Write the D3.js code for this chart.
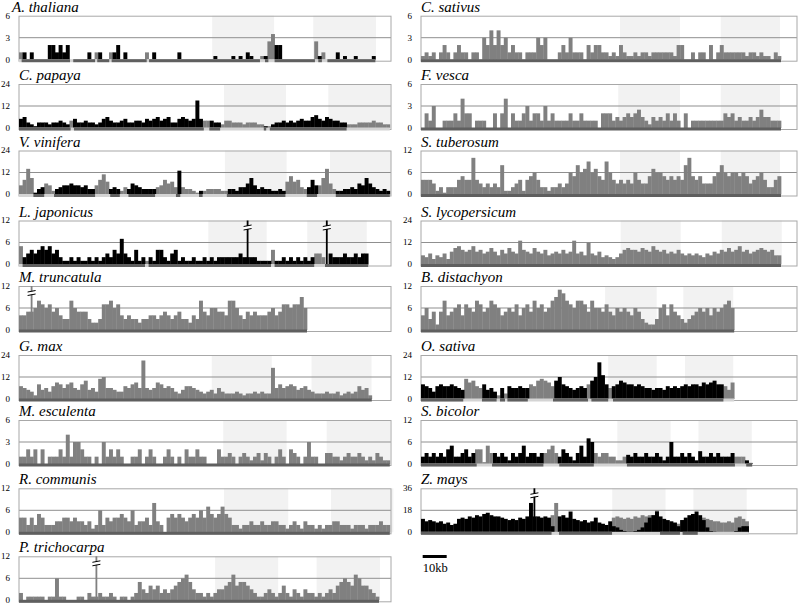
<!DOCTYPE html>
<html>
<head>
<meta charset="utf-8">
<script src="https://cdn.jsdelivr.net/npm/d3@7"></script>
<style>
  body { margin: 0; background: #fff; }
  svg { display: block; }
  svg text { font-family: "Liberation Serif", "Times New Roman", Times, serif; }
</style>
</head>
<body>
<script>
// every series is binned at 1.5 kb
const BIN = 1.5;
const KB_PX = 2.4;   // 10kb = 24px on the page

// ---- data: values per bin, shaded blocks (kb), black stretches (kb) ----
const athaliana = [1,1,0,1,0,0,0,0,2,2, 1,2,1,2,0,0,0,0,0,1, 0,1,1,0,0,1,1,2,0,1, 0,0,0,0,0,1,0,1,0,0,
  0,0,0,0,1,0,0,0,0,0, 0,0,0,0,0.5,0,0,0,0,0.5, 0,0.5,0,1,0.5,0,0,0.5,0.5,2.5, 3.5,2,2,0,0,0,0,0,0,0,
  0,0,2.5,0.5,1,0,0,0,1,0, 0.5,0,0,0.5,0,0,0,0,0.5];
const athShade = [[80.5,106.3],[122.6,148.75]];
const athBlack = [[1.1,21.25],[22.6,31.7],[32.6,37.6],[38.6,53.2],[54.2,100.4],[102.5,103.9],[106.5,123.3],[124.7,126.2],[128.5,148.5]];

const cpapaya = [5,6,3,2, 1,3,3,3,2, 3,3,4,3,2,4, 5,3,3,4,3,3, 2,3,5,6,4,3, 3,4,5,3,3,4, 4,3,5,4,5,6,
  4,5,6,3,3,5, 6,5,4,5, 15,5, 4,4,4, 3,3,2, 4,4,3,3,3,2,3,3,3,2,2,1, 1,2,
  3,3,4,3,4,3,4,5,4,4,6,7,5,4,6,5,4,4,3,3,2, 2,2,3,3,3,3,4,3,3,2,2];
const cpShade = [[85.4,111.25],[128.9,154.6]];
const cpBlack = [[0,21.5],[22.9,77],[79.3,83.8],[102,103],[104.5,136.5]];

const vvinifera = [5,8,14,9, 1, 3,4,6,5,2, 3,4,5,5,6,5,5,4,5,3,3, 5,8,11,7,3, 4,3, 2,4,3, 6,5,4,3,3,3,3,
  4,5,8,6,7, 4, 13, 4,3,3,2,1, 2, 2,3,3,3,3,2,2, 3,3,2,4,4,6,9,5,3,4,3,3,2,2,3,2,
  7,10,7,8,4,3, 4,8,5, 5,9,14,6,3, 2,2,3,3,4,3,6,5,9,6,4,3,2,3,2];
const vvShade = [[85.8,111.5],[129.6,155]];
const vvBlack = [[6,10.5],[14.6,31.7],[38,42],[45.6,56.7],[65.4,67.2],[75,76.5],[86.6,111],[119.9,124.2],[132,155]];

const ljaponicus = [5,2, 3,4,3,4,5,4,5,3,4,2, 1,1,2,1,2,1,1,2,1,2,1, 2,3,2,4,3, 7, 3,2,1,4,1,2, 1,
  2,1,4,4,2, 1,3,4,1,2,1, 1,2,1,1,2,1,2,1,2,2,2, 2,2,2,3,2, 30, 2,2,1, 1,1,1, 4,
  1,1,2,1,2,1,2,1,2,1, 2,3,3,2, 30, 3,2,2,2,3,2,2,3,2,3,3];
const ljShade = [[78.9,103.2],[120.1,144.9]];
const ljBlack = [[1.5,52.5],[54,105],[106.5,123],[127.5,146]];

const mtruncatula = [4,4,5, 30, 6,8,7,6,7,5, 6,4,3,3, 8,6,5,5,5, 3,2,2,3, 7,7,8,6,7, 4,3,4,3,3,
  2,3,3,4,4,3,4, 5,4,3,4,5,3,3, 2,4,3, 8,5,4,6, 6,5,5,4,8,8,6, 4,3,5,4,5, 4,4,4,5,6,4,5, 7,7,6,7,7,9,6];
const mtShade = [];

const gmax = [7,6,5,4,2,8, 5,6,4,7,9,8, 6,8,9,6,5,8, 10,5,6,4,11, 12,6,6,5,4, 4,7,6,8,9,6, 21,
  6,5,6,9,8,6, 7,6,4,3,5,7, 7,6,5,4,3,4, 5,3,6,4,3,3, 3,4,3,2,3,3,4, 3,4,3,3,17,
  6,8,6,7,8,7,5, 6,7,5,4,3,3,3, 4,3,3,4,2,3,4, 3,4,7,5,6,2];
const gmShade = [[80.3,105.3],[121.9,146.9]];

const mesculenta = [1,1,2,1,2,0, 2,0,1,1,1,2,1, 4,1,3,3,2, 1,1,0,1,0, 3, 1,2,1,2,1, 0,0,1,1,
  2,0,1,2,1,0, 0,1,2,1,0,1, 0,2,1,1,2, 1,1,0,0,0,2, 1,1,1.5,1,0,1, 1.5,1,0.5,1,1.5,0.5,
  1.5,1,0,1,2, 1,0,2,1.5,1,0,1, 3, 1,1,0,0,1.5,1.5, 1,1,0.5,1,1.5,1,1, 1.5,1,0.5,1,0.5,1.5,1,0.5,0.5];
const meShade = [[85.1,111.5],[128.2,154.6]];

const rcommunis = [4,4,2,4,2,5, 4,2,2,2,3,3, 4,4,3,4,3,3, 2,3,1,2,6,2, 4,3,4,4,5,4, 3,6,2,3,
  3,4,2,8,3,2, 0, 4,5,4,5,4,3, 4,5,4,6,4,7, 5,4,5,7,5,4, 2,2,1,2,2,3,2,2, 3,2,2,3,3,2,2,1,
  2,3,2,1,3,2,2,1, 2,1,2,2,3,3,2,2, 2,1,2,2,2,1,2, 2,2,3,2,2];
const rcShade = [[85.4,112.2],[130,156]];

const ptrichocarpa = [2,0,1,1,1,1, 1,0,1,1,6, 1,1,0,0,0,1, 1,0,2,1, 30, 2,1,1,2,1,0, 1,1,0,1,2,
  5,3,2,4,3,4, 2,3,2,3,4,5, 6,7,5,3,2,2, 1,2,1,2,3, 3,4,5,7,4,5, 5,4,3,2,1, 1,2,3,2,1,2,
  4,2,1,3,2,1, 3,2,2,1,2,1, 2,3,2,4,5,6, 5,4,7,6,4, 4,3,2,1];
const ptShade = [[81.7,108],[124,150.4]];

const csativus = [0.5,1,0.5,1,0,1,2,1,0,1, 2,1,1,0,1,1,0,3,2,4, 2,4,2,3,1,2,1,1,0,1, 1,1,3,2,3,0,0,0,1,2,
  1,3,1,1,1,0,2,1,2,2, 1,1,0.5,1,0.5,2,1,0.5,0.5,1, 0.5,1,1,0.5,1,1,1,1,1,1, 0.5,2,2,0,0,1,0,1,1,0,
  2,0,1,2,1,1,1,1,1,1, 0.5,1,1,0.5,1,0.5,0.5,0,1,0.5];
const csShade = [[82.9,107.9],[124.9,149.6]];

const fvesca = [0,2,1,3,0,0,1,1,1,2, 1,4,2,2,0,1,1,1,0,0, 2,0,2,4,0,2,1,1,2,3, 1,2,2,1,3,1,2,1,1,1,
  1,2,1,1,2,1,1,1,1,0, 2,2,2,1,1.5,1,1.5,2,1.5,2, 2.5,1.5,1,0.5,1.5,1,1.5,1,2,1, 2,1,0,2,0,1,1,1,1,1,
  1,1,1,1,2,1.5,2,1,1.5,1, 1,1.5,1,1.5,2.5,1.5,1.5,1,1,1];
const fvShade = [[82.2,107.9],[124.9,149.6]];

const stuberosum = [4,4,4,3,1,2,0.5,2,2,2, 4,5,4,4,10,4,3,2,3,2, 3,2,8,1,1,2,3,4,1,4, 5,6,4,2,2,1,2,2,3,2,
  3,6,5,8,6,7,9,6,7,5, 4,9,6,4,3,4,3,4,3,6, 4,3,3,5,7,6,6,5,4,5, 4,5,4,8,10,5,4,5,3,3,
  3,5,6,8,6,5,6,6,5,6, 5,3,4,5,6,4,2,2,4,5];
const stShade = [[82.9,107.9],[124.9,149.6]];

const slycopersicum = [5,4,6,3,5,4,6,3, 7,9,10,8,7, 8,10,7,8,6,7,9,7,5,8,6,9, 7,6,13, 8,7,6,9,7,6,8,5,6,7,6,8,6,
  7,13, 6,7,5,12, 6,5,7,4,5,4,3,4, 6,8,9,8,8,7,9, 8,7,10,8,7,8,6, 7,6,8,6,5,6,5,6,
  5,4,6,5,7,6,8,7, 9,7,8,10,7,8,6,7, 8,9,8,7,8,5,5];
const slShade = [[83.2,108.2],[125.3,150.3]];

const bdistachyon = [4,6,3,5,1.5, 5,8,4,5,6,7, 4,7,6,5,8,7, 5,6,8,7,6,4, 5,6,5,7,4,6, 7,5,8,6,7,5, 6,8,9,
  11,10,8, 7,6,8,8,7,5, 8,6,6,5,7, 5,4,6,5,6,5, 4,6,5,3, 2,1.5,1.5,3, 6,7,4,7,5, 4,3,2,3,4,
  5,6,5,6,4,6,5,6,7,8,6];
const bdShade = [[76.7,98.2],[109.3,130.1]];

const osativa = [8,7,6,4,7,8, 7,7,8,7,6,5, 11,9,10,7,6, 8,5,6,4,2, 6,3, 7,6,6,7,6,6,8, 7,10,11,10,9,7,
  10,12,8,7, 6,5,6,7,6, 8,10,12, 20,13, 8,6,7, 8,10,9,8,8,7, 8,7,6,6,5,6, 6,5,7,6,7,6,
  7,8,7,8,8,7,9, 8,9,10,8,8,7,5,9];
const osShade = [[78,98.2],[110,130.1]];
const osBlack = [[0,17.6],[25.4,31.5],[32.9,35],[36,44.5],[55,69.6],[71,78],[80,126]];

const sbicolor = [2,3,2,3,2,3, 2,4,5,2,2, 3,4,2,3,4, 4,0.5,5, 3,3,2,3,2,1, 3,2,3,5,2,3, 3,2,3, 3,4,5,3,
  2,4,3,2, 1,3,5,2, 7,6, 3,2,3,3,2,2, 1,1,2,2.5, 2,3,2,2,3,2,2, 3,2,1,2,6,2, 2,3,2,3,2,1,3.5,
  2,2,3,2,3,2,2, 2,3,2,2, 2,1,0.3];
const sbShade = [[81.8,104],[115.6,137.8]];
const sbBlack = [[0,23.2],[29.6,51],[57.6,72],[85.8,130.8],[135.5,138]];

// Z. mays: two overlaid series, black drawn in front of gray
const zmaysBlack = [11,9,10,9,8,9,7,8,6,7, 11,12,11,13,12,14,13,15,16,14, 13,13,12,11,10,11,10,12,11,13,
  24,50,13,12,13,12, 5, 0, 13,14,12,17,11,10,9,10,8,9,12,8,7,6,9, 5,4,2,1,0.5,0.5,1,2,4,8,
  12,14,17,13,11,10,9,8, 5,10,12,14,15,17,14, 10,4,1,0.5,0,0,0,0,0,1,4,5,5];
const zmaysGray = [0,0,0,0,0,0,0,0,0,0, 0,0,0,0,0,0,0,0,0,0, 0,0,0,0,0,0,0,0,0,0, 0,0,0,0,0,0, 14, 24,
  0,0,0,0,0,0,0,0,0,0,0,0,0,0,0, 12,13,12,11,12,11,13,12,14,13, 14,14,18,0,0,0,0,0, 7,10,0,0,0,0,0,
  12,11,10,9,9,8,8,9,8,12,13,11,9];
const zmShade = [[79.7,101.9],[113.5,135.7]];
const zmBase = [[0,54.4],[57.5,79.6],[99.6,107.9],[109,115.3]];

const leftNames = ["A. thaliana", "C. papaya", "V. vinifera", "L. japonicus", "M. truncatula",
                   "G. max", "M. esculenta", "R. communis", "P. trichocarpa"];
const rightNames = ["C. sativus", "F. vesca", "S. tuberosum", "S. lycopersicum", "B. distachyon",
                    "O. sativa", "S. bicolor", "Z. mays"];
const leftMax = [6, 24, 24, 12, 12, 24, 6, 12, 12];
const rightMax = [6, 6, 12, 24, 12, 24, 12, 36];

// split a single series into black / gray by black stretches
function split(vals, segs) {
  const inSeg = i => segs.some(s => (i + 0.5) * BIN >= s[0] && (i + 0.5) * BIN < s[1]);
  return {
    black: vals.map((v, i) => inSeg(i) ? v : 0),
    gray: vals.map((v, i) => inSeg(i) ? 0 : v),
    base: segs,
    mixed: true
  };
}
function plain(vals) {
  return { gray: vals, black: null, base: [[0, vals.length * BIN]], mixed: false };
}

const leftSeries = [
  Object.assign(split(athaliana, athBlack), {shade: athShade}),
  Object.assign(split(cpapaya, cpBlack), {shade: cpShade}),
  Object.assign(split(vvinifera, vvBlack), {shade: vvShade}),
  Object.assign(split(ljaponicus, ljBlack), {shade: ljShade}),
  Object.assign(plain(mtruncatula), {shade: mtShade}),
  Object.assign(plain(gmax), {shade: gmShade}),
  Object.assign(plain(mesculenta), {shade: meShade}),
  Object.assign(plain(rcommunis), {shade: rcShade}),
  Object.assign(plain(ptrichocarpa), {shade: ptShade})
];
const rightSeries = [
  Object.assign(plain(csativus), {shade: csShade}),
  Object.assign(plain(fvesca), {shade: fvShade}),
  Object.assign(plain(stuberosum), {shade: stShade}),
  Object.assign(plain(slycopersicum), {shade: slShade}),
  Object.assign(plain(bdistachyon), {shade: bdShade}),
  Object.assign(split(osativa, osBlack), {shade: osShade}),
  Object.assign(split(sbicolor, sbBlack), {shade: sbShade}),
  {gray: zmaysGray, black: zmaysBlack, base: zmBase, mixed: true, shade: zmShade}
];

// ---- layout ----
const rowTop = [15.7, 84, 150.5, 220.5, 286, 355, 420, 488.3, 556.3];
const PH = 44;
const columns = [
  {x0: 19, w: 372, names: leftNames, max: leftMax, series: leftSeries},
  {x0: 421, w: 376, names: rightNames, max: rightMax, series: rightSeries}
];
const SERIF = "'Liberation Serif', 'Times New Roman', Times, serif";

const svg = d3.select("body").append("svg")
  .attr("width", 800)
  .attr("height", 605);

function drawBars(g, arr, color, x, y, max) {
  var bw = x(BIN) - x(0);
  var pts = arr.map((v, i) => ({v: v, i: i})).filter(d => d.v > 0);
  // off-scale bins keep a stub at the neighbours' level, plus a thin spike
  var level = function(d) {
    if (d.v <= max) return d.v;
    var a = arr[d.i - 1] || 0, b = arr[d.i + 1] || 0;
    return Math.min(a, b, max);
  };
  g.selectAll(null).data(pts).join("rect")
    .attr("x", d => x(d.i * BIN))
    .attr("width", bw + 0.35)
    .attr("y", d => y(level(d)))
    .attr("height", d => y(0) - y(level(d)))
    .attr("fill", color);
  g.selectAll(null).data(pts.filter(d => d.v > max)).join("rect")
    .attr("x", d => x((d.i + 0.5) * BIN) - 0.9)
    .attr("width", 1.8)
    .attr("y", y(max))
    .attr("height", y(0) - y(max))
    .attr("fill", color);
}

columns.forEach(function(col) {
  col.names.forEach(function(name, r) {
    var s = col.series[r];
    var max = col.max[r];
    var top = rowTop[r];
    var x = d3.scaleLinear().domain([0, col.w / KB_PX]).range([col.x0, col.x0 + col.w]);
    var y = d3.scaleLinear().domain([0, max]).range([top + PH, top]);
    var g = svg.append("g");

    // shaded blocks
    g.selectAll(null).data(s.shade).join("rect")
      .attr("x", d => x(d[0]))
      .attr("width", d => x(d[1]) - x(d[0]))
      .attr("y", top)
      .attr("height", PH)
      .attr("fill", "#f2f2f2");

    // middle gridline and frame
    g.append("line")
      .attr("x1", col.x0).attr("x2", col.x0 + col.w)
      .attr("y1", y(max / 2)).attr("y2", y(max / 2))
      .attr("stroke", "#8f8f8f");
    g.append("rect")
      .attr("x", col.x0).attr("y", top + 0.5)
      .attr("width", col.w).attr("height", PH + 1)
      .attr("fill", "none")
      .attr("stroke", "#a8a8a8");

    drawBars(g, s.gray, "#808080", x, y, max);
    if (s.black) drawBars(g, s.black, "#000", x, y, max);

    // baseline track
    var end = s.gray.length * BIN;
    if (s.mixed) {
      g.append("rect")
        .attr("x", x(0)).attr("width", x(end) - x(0))
        .attr("y", y(0) - 0.5).attr("height", 3)
        .attr("fill", "#d4d4d4");
    }
    g.selectAll(null).data(s.base).join("rect")
      .attr("x", d => x(d[0]))
      .attr("width", d => x(Math.min(d[1], end)) - x(d[0]))
      .attr("y", y(0) - 0.5).attr("height", 3)
      .attr("fill", "#5f5f5f");

    // break marks on clipped spikes
    var tall = [];
    s.gray.forEach((v, i) => { if (v > max) tall.push(i); });
    if (s.black) s.black.forEach((v, i) => { if (v > max) tall.push(i); });
    tall.forEach(function(i) {
      var cx = x((i + 0.5) * BIN), cy = top + 7;
      g.append("rect").attr("x", cx - 4).attr("y", cy - 1.5).attr("width", 8).attr("height", 3).attr("fill", "#fff");
      g.append("line").attr("x1", cx - 4).attr("x2", cx + 4).attr("y1", cy - 1).attr("y2", cy - 2.5).attr("stroke", "#000");
      g.append("line").attr("x1", cx - 4).attr("x2", cx + 4).attr("y1", cy + 2.5).attr("y2", cy + 1).attr("stroke", "#000");
    });

    // tick labels
    g.selectAll(null).data([0, max / 2, max]).join("text")
      .attr("x", col.x0 - 9)
      .attr("y", d => y(d))
      .attr("dy", "0.33em")
      .attr("text-anchor", "end")
      .attr("font-family", SERIF)
      .attr("font-size", "9px")
      .text(d => d);

    // species name
    g.append("text")
      .attr("x", name === "A. thaliana" ? col.x0 - 7 : col.x0)
      .attr("y", top - 4)
      .attr("font-family", SERIF)
      .attr("font-size", "15px")
      .attr("font-style", "italic")
      .text(name);
  });
});

// scale bar
var xs = d3.scaleLinear().domain([0, 376 / KB_PX]).range([421, 797]);
svg.append("rect")
  .attr("x", xs(0.7)).attr("width", xs(10.7) - xs(0.7))
  .attr("y", 555).attr("height", 3)
  .attr("fill", "#000");
svg.append("text")
  .attr("x", xs(0.7)).attr("y", 572)
  .attr("font-family", SERIF)
  .attr("font-size", "12.5px")
  .text("10kb");
</script>
</body>
</html>
